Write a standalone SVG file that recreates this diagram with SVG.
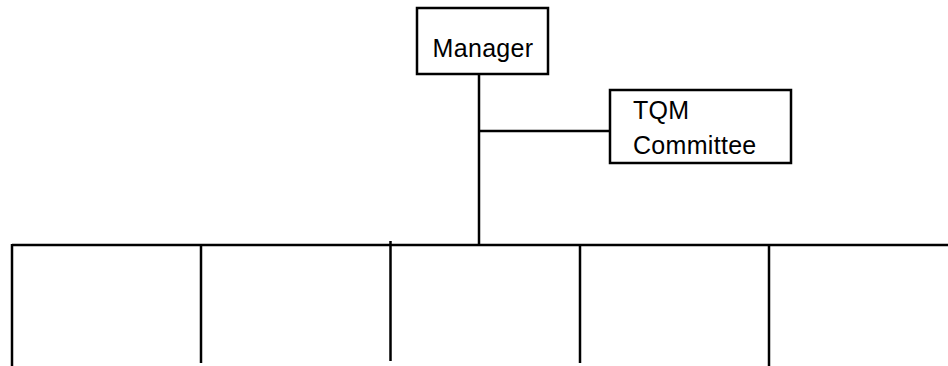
<svg xmlns="http://www.w3.org/2000/svg" width="948" height="366" viewBox="0 0 948 366">
  <style>
    .box { fill: #ffffff; stroke: #000000; stroke-width: 2.5; }
    .line { stroke: #000000; stroke-width: 2.5; fill: none; }
    .label { font-family: "Liberation Sans", Arial, sans-serif; font-size: 25px; letter-spacing: 0.3px; fill: #000000; }
  </style>
  <rect width="948" height="366" fill="#ffffff"/>
  <g id="connectors">
    <line class="line" x1="479" y1="74" x2="479" y2="245"/>
    <line class="line" x1="479" y1="131" x2="609" y2="131"/>
    <line class="line" x1="12" y1="245" x2="948" y2="245"/>
    <line class="line" x1="12" y1="244" x2="12" y2="366"/>
    <line class="line" x1="201" y1="245" x2="201" y2="363"/>
    <line class="line" x1="390.5" y1="241" x2="390.5" y2="361"/>
    <line class="line" x1="580" y1="245" x2="580" y2="363"/>
    <line class="line" x1="769" y1="245" x2="769" y2="366"/>
  </g>
  <g id="manager">
    <rect class="box" x="417" y="8" width="131" height="66"/>
    <text class="label" x="483" y="57" text-anchor="middle">Manager</text>
  </g>
  <g id="tqm-committee">
    <rect class="box" x="610" y="90" width="181" height="73"/>
    <text class="label" x="633" y="119">TQM</text>
    <text class="label" x="633" y="154">Committee</text>
  </g>
</svg>
